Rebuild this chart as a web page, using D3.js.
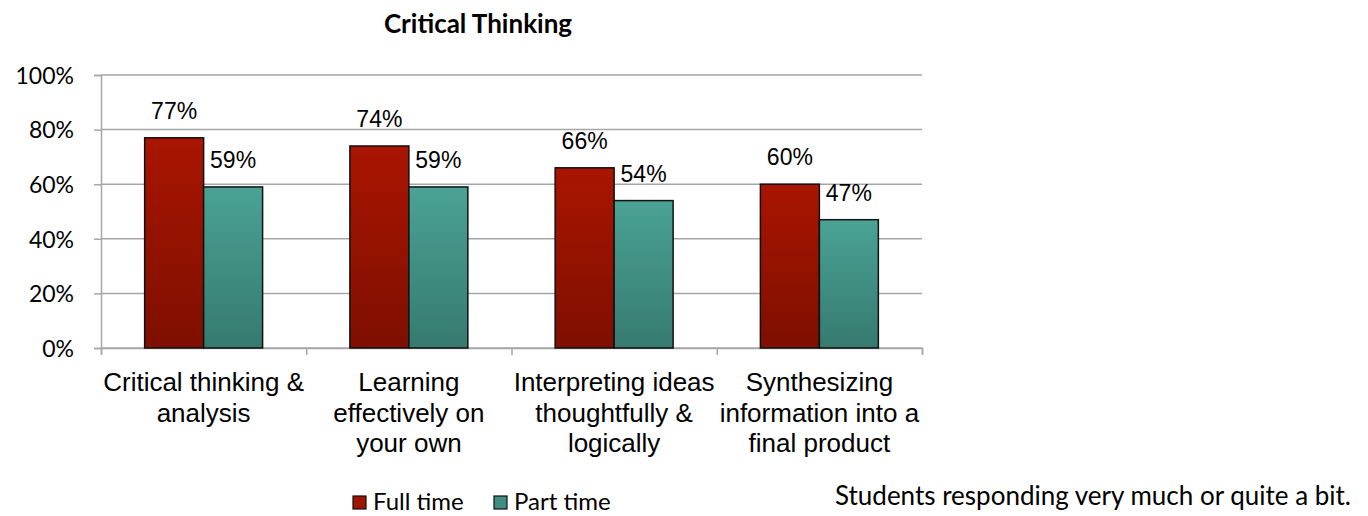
<!DOCTYPE html>
<html>
<head>
<meta charset="utf-8">
<script src="https://cdn.jsdelivr.net/npm/d3@7"></script>
<style>
  body { margin: 0; background: #fff; }
  svg text { font-family: "Liberation Sans", Arial, sans-serif; fill: #000; }
</style>
</head>
<body>
<svg id="chart" width="1368" height="516"></svg>
<script>
// data
var categories = [
  ['Critical thinking &', 'analysis'],
  ['Learning', 'effectively on', 'your own'],
  ['Interpreting ideas', 'thoughtfully &', 'logically'],
  ['Synthesizing', 'information into a', 'final product']
];
var seriesNames = ['Full time', 'Part time'];
var fullTime = [77, 74, 66, 60];
var partTime = [59, 59, 54, 47];
var yTicks = [0, 20, 40, 60, 80, 100];

var margin = {top: 75, left: 101},
    width = 821,
    height = 273;
var calibri = 'Lato, "Open Sans", sans-serif';

var svg = d3.select('#chart');

// gradients for the bars
var defs = svg.append('defs');
function grad(id, top, bottom) {
  var g = defs.append('linearGradient').attr('id', id)
    .attr('x1', 0).attr('y1', 0).attr('x2', 0).attr('y2', 1);
  g.append('stop').attr('offset', '0%').attr('stop-color', top);
  g.append('stop').attr('offset', '100%').attr('stop-color', bottom);
}
grad('gRed', '#a91500', '#7e0f00');
grad('gTeal', '#4aa295', '#367a6f');
var fills = ['url(#gRed)', 'url(#gTeal)'];
var swatch = ['#a01400', '#3f8c81'];

var g = svg.append('g').attr('transform', 'translate(' + margin.left + ',' + margin.top + ')');

var x = d3.scaleBand().domain(d3.range(categories.length)).range([0, width]);
var x1 = d3.scaleBand().domain([0, 1]).range([0, x.bandwidth()]).paddingOuter(0.74);
var y = d3.scaleLinear().domain([0, 100]).range([height, 0]);

// gridlines
g.selectAll('.grid').data(yTicks).enter().append('line')
  .attr('x1', 0).attr('x2', width)
  .attr('y1', function (d) { return y(d); })
  .attr('y2', function (d) { return y(d); })
  .attr('stroke', '#a6a6a6').attr('stroke-width', 1.5);

// y axis
var yAxis = d3.axisLeft(y).tickValues(yTicks).tickSize(7)
  .tickFormat(function (d) { return d + '%'; });
var ya = g.append('g').call(yAxis);
ya.select('.domain').attr('stroke', '#a6a6a6').attr('stroke-width', 1.5);
ya.selectAll('.tick line').attr('stroke', '#a6a6a6').attr('stroke-width', 1.5);
ya.selectAll('.tick text').attr('x', -27).attr('dy', '0.36em').attr('font-size', 23)
  .style('font-family', calibri);

// bottom axis with ticks at category boundaries
var xb = d3.scaleLinear().domain([0, categories.length]).range([0, width]);
var xa = g.append('g').attr('transform', 'translate(0,' + height + ')')
  .call(d3.axisBottom(xb).ticks(4).tickSize(7).tickFormat(''));
xa.select('.domain').attr('stroke', '#a6a6a6').attr('stroke-width', 1.5);
xa.selectAll('.tick line').attr('stroke', '#a6a6a6').attr('stroke-width', 1.5);

// bars
var rows = categories.map(function (c, i) { return [fullTime[i], partTime[i]]; });
var grp = g.selectAll('.grp').data(rows).enter().append('g')
  .attr('transform', function (d, i) { return 'translate(' + x(i) + ',0)'; });

grp.selectAll('rect').data(function (d) { return d; }).enter().append('rect')
  .attr('x', function (d, j) { return x1(j); })
  .attr('y', function (d) { return y(d); })
  .attr('width', x1.bandwidth())
  .attr('height', function (d) { return height - y(d); })
  .attr('fill', function (d, j) { return fills[j]; })
  .attr('stroke', '#111').attr('stroke-width', 1.5);

grp.selectAll('.lbl').data(function (d) { return d; }).enter().append('text')
  .attr('x', function (d, j) { return x1(j) + x1.bandwidth() / 2; })
  .attr('y', function (d) { return y(d) - 19; })
  .attr('text-anchor', 'middle').attr('font-size', 23)
  .text(function (d) { return d + '%'; });

// category labels
var cl = g.selectAll('.cat').data(categories).enter().append('text')
  .attr('text-anchor', 'middle').attr('font-size', 26)
  .attr('transform', function (d, i) { return 'translate(' + (x(i) + x.bandwidth() / 2) + ',' + (height + 43) + ')'; });
cl.selectAll('tspan').data(function (d) { return d; }).enter().append('tspan')
  .attr('x', 0).attr('dy', function (d, k) { return k === 0 ? 0 : 30.5; })
  .text(function (d) { return d; });

// title
svg.append('text')
  .attr('x', 478).attr('y', 33).attr('text-anchor', 'middle')
  .attr('font-size', 26).attr('font-weight', 'bold')
  .style('font-family', calibri)
  .text('Critical Thinking');

// legend
var legX = [353, 494];
var leg = svg.selectAll('.leg').data(seriesNames).enter().append('g')
  .attr('transform', function (d, i) { return 'translate(' + legX[i] + ',496)'; });
leg.append('rect').attr('width', 13).attr('height', 13)
  .attr('fill', function (d, i) { return swatch[i]; })
  .attr('stroke', '#111').attr('stroke-width', 1.2);
leg.append('text').attr('x', 20).attr('y', 14).attr('font-size', 24)
  .style('font-family', calibri)
  .text(function (d) { return d; });

// note
svg.append('text').attr('x', 835).attr('y', 505).attr('font-size', 26)
  .style('font-family', calibri)
  .text('Students responding very much or quite a bit.');
</script>
</body>
</html>
